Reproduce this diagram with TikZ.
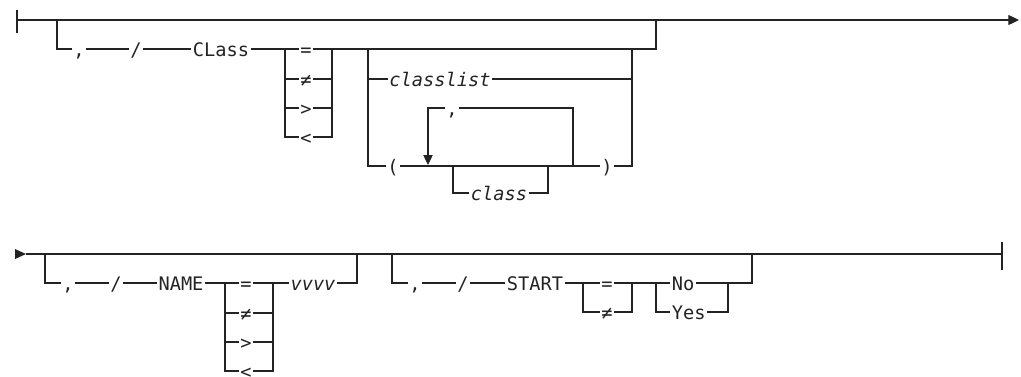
\documentclass[tikz,border=0pt]{standalone}
\usepackage{fontspec}
\usetikzlibrary{arrows.meta}
\newfontfamily\rrmono{DejaVu Sans Mono}
\definecolor{ink}{RGB}{35,35,35}
\begin{document}
\begin{tikzpicture}[x=0.75pt,y=-0.75pt,
  rr/.style={line width=0.9pt,draw=ink},
  lbl/.style={inner xsep=1.2pt,inner ysep=0pt,text height=11pt,text depth=0.5pt,text=ink,font=\rrmono\fontsize{14}{16}\selectfont},
  var/.style={lbl,font=\rrmono\itshape\fontsize{14}{16}\selectfont},
  tip/.style={-{Triangle[length=8pt,width=7.5pt]}},
  ltip/.style={-{Triangle[length=7.5pt,width=7pt]}}]
\useasboundingbox (0,0) rectangle (1021,376);

% ---------------- Row 1 ----------------
\coordinate (s1t) at (17,10); \coordinate (s1b) at (17,33);
\coordinate (m1s) at (17,20); \coordinate (m1e) at (1019,20);
\draw[rr] (s1t) -- (s1b);
\draw[rr,tip] (m1s) -- (m1e);

\coordinate (d1) at (57,20);
\node[lbl] (c1) at (79,49) {,};
\node[lbl] (sl1) at (136,49) {/};
\node[lbl] (cls) at (221,49) {CLass};
\draw[rr] (d1) |- (c1);
\draw[rr] (c1) -- (sl1) -- (cls);

\coordinate (a1) at (285,49); \coordinate (b1) at (332,49);
\node[lbl] (eq1) at (306,49) {=};
\node[lbl] (ne1) at (306,79) {≠};
\node[lbl] (gt1) at (306,108) {>};
\node[lbl] (lt1) at (306,137) {<};
\draw[rr] (cls) -- (eq1) -- (b1);
\foreach \n in {ne1,gt1,lt1}{\draw[rr] (a1) |- (\n); \draw[rr] (\n) -| (b1);}

\coordinate (a2) at (368,49); \coordinate (b2) at (632,49);
\coordinate (r1) at (656,49); \coordinate (j1) at (656,20);
\draw[rr] (b1) -- (r1) -- (j1);

\node[var] (clist) at (440,79) {classlist};
\draw[rr] (a2) |- (clist); \draw[rr] (clist) -| (b2);

\node[lbl] (lp) at (393,166) {(};
\node[lbl] (rp) at (607,166) {)};
\draw[rr] (a2) |- (lp); \draw[rr] (lp) -- (rp); \draw[rr] (rp) -| (b2);

\coordinate (lpL) at (428,165); \coordinate (lpR) at (573,166);
\node[lbl] (c2) at (452,108) {,};
\draw[rr] (lpR) |- (c2);
\draw[rr,ltip] (c2) -| (lpL);

\coordinate (oL) at (453,166); \coordinate (oR) at (548,166);
\node[var] (cl) at (499,193) {class};
\draw[rr] (oL) |- (cl); \draw[rr] (cl) -| (oR);

% ---------------- Row 2 ----------------
\fill[ink] (15,249) -- (26,254) -- (15,259) -- cycle;
\coordinate (m2s) at (26,254); \coordinate (m2e) at (1002,254);
\draw[rr] (m2s) -- (m2e);
\coordinate (e2t) at (1002,242); \coordinate (e2b) at (1002,270);
\draw[rr] (e2t) -- (e2b);

\coordinate (d2) at (45,254);
\node[lbl] (c3) at (68,283) {,};
\node[lbl] (sl2) at (116,283) {/};
\node[lbl] (nm) at (181,283) {NAME};
\draw[rr] (d2) |- (c3);
\draw[rr] (c3) -- (sl2) -- (nm);

\coordinate (a3) at (225,283); \coordinate (b3) at (273,283);
\node[lbl] (eq3) at (246,283) {=};
\node[lbl] (ne3) at (246,313) {≠};
\node[lbl] (gt3) at (246,342) {>};
\node[lbl] (lt3) at (246,371) {<};
\node[var] (vv) at (313,283) {vvvv};
\draw[rr] (nm) -- (eq3) -- (vv);
\foreach \n in {ne3,gt3,lt3}{\draw[rr] (a3) |- (\n); \draw[rr] (\n) -| (b3);}
\coordinate (r3) at (357,283); \coordinate (j3) at (357,254);
\draw[rr] (vv) -- (r3) -- (j3);

\coordinate (d4) at (392,254);
\node[lbl] (c4) at (415,283) {,};
\node[lbl] (sl4) at (463,283) {/};
\node[lbl] (st) at (535,283) {START};
\draw[rr] (d4) |- (c4);
\draw[rr] (c4) -- (sl4) -- (st);

\coordinate (a4) at (583,283); \coordinate (b4) at (632,283);
\node[lbl] (eq4) at (607,283) {=};
\node[lbl] (ne4) at (607,312) {≠};
\node[lbl,anchor=west] (no) at (670,283) {No};
\node[lbl,anchor=west] (yes) at (670,312) {Yes};
\coordinate (a5) at (656,283); \coordinate (b5) at (728,283);
\draw[rr] (st) -- (eq4) -- (no);
\draw[rr] (a4) |- (ne4); \draw[rr] (ne4) -| (b4);
\draw[rr] (a5) |- (yes); \draw[rr] (yes) -| (b5);
\coordinate (r5) at (752,283); \coordinate (j5) at (752,254);
\draw[rr] (no) -- (r5) -- (j5);
\end{tikzpicture}
\end{document}
